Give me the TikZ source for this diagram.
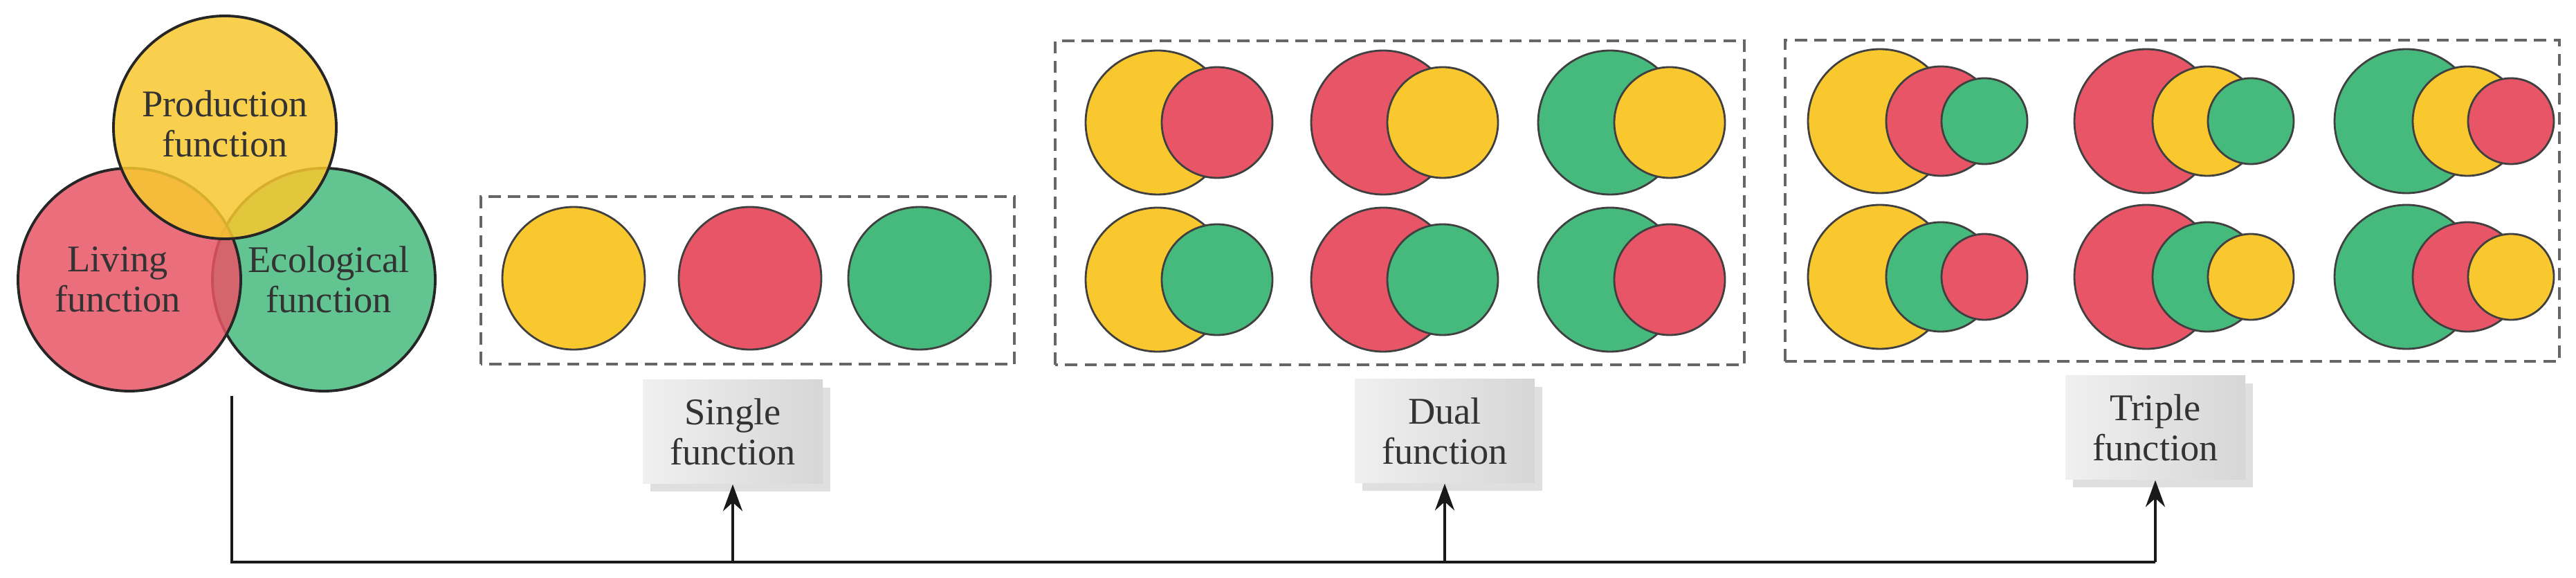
\documentclass[tikz,border=0pt]{standalone}
\usepackage{fontspec}
\setmainfont{Liberation Serif}
\usetikzlibrary{arrows.meta,shadows}
\definecolor{fy}{HTML}{F8C82E}
\definecolor{fr}{HTML}{E85566}
\definecolor{fg}{HTML}{46BA7D}
\definecolor{txt}{HTML}{333333}
\begin{document}
\begin{tikzpicture}[
  txtf/.style={font=\fontsize{15.5}{16.5}\selectfont, text=txt, align=center},
  venn/.style={circle, draw=black!85, line width=1.1pt, fill opacity=0.85, text opacity=1, minimum size=3.22cm, inner sep=0pt, txtf},
  dot/.style={draw=black!75, line width=0.8pt},
  grp/.style={draw=black!60, dashed, line width=1pt, dash pattern=on 5pt off 3pt},
  lab/.style={rectangle, minimum width=2.6cm, minimum height=1.5cm, txtf, left color=gray!12, right color=gray!32, drop shadow={shadow xshift=3pt, shadow yshift=-3pt, opacity=0.25}},
  conn/.style={line width=1.1pt, black!90},
  arr/.style={conn, -{Stealth[length=11pt,width=8pt]}}
]
\useasboundingbox (0,0) rectangle (37.23,8.34);
% Venn
\node[venn, fill=fg] (eco) at (4.68,4.30) {};
\node[venn, fill=fr] (liv) at (1.87,4.30) {};
\node[venn, fill=fy] (prod) at (3.25,6.50) {};
\node[txtf] (prodt) at (3.25,6.55) {Production\\function};
\node[txtf] (livt) at (1.70,4.30) {Living\\function};
\node[txtf] (ecot) at (4.75,4.30) {Ecological\\function};
% Single
\draw[grp] (6.95,3.08) rectangle (14.66,5.50);
\foreach \x/\c in {8.29/fy,10.84/fr,13.29/fg} \draw[dot, fill=\c] (\x,4.32) circle (1.03);
% Dual
\draw[grp] (15.25,3.07) rectangle (25.21,7.75);
\foreach \x/\a/\b/\y in {16.73/fy/fr/6.57, 19.99/fr/fy/6.57, 23.27/fg/fy/6.57,
                        16.73/fy/fg/4.30, 19.99/fr/fg/4.30, 23.27/fg/fr/4.30}{
  \draw[dot, fill=\a] (\x,\y) circle (1.04);
  \draw[dot, fill=\b] (\x+0.86,\y) circle (0.80);
}
% Triple
\draw[grp] (25.80,3.12) rectangle (36.99,7.76);
\foreach \x/\a/\b/\c/\y in {27.17/fy/fr/fg/6.59, 31.02/fr/fy/fg/6.59, 34.78/fg/fy/fr/6.59,
                           27.17/fy/fg/fr/4.34, 31.02/fr/fg/fy/4.34, 34.78/fg/fr/fy/4.34}{
  \draw[dot, fill=\a] (\x,\y) circle (1.04);
  \draw[dot, fill=\b] (\x+0.88,\y) circle (0.79);
  \draw[dot, fill=\c] (\x+1.51,\y) circle (0.62);
}
% Labels
\node[lab] (single) at (10.59,2.10) {Single\\function};
\node[lab] (dual) at (20.88,2.11) {Dual\\function};
\node[lab] (triple) at (31.15,2.16) {Triple\\function};
% Connectors
\coordinate (start) at (3.35,2.62);
\coordinate (corner) at (3.35,0.22);
\coordinate (end) at (31.15,0.22);
\coordinate (s1) at (10.59,0.22);
\coordinate (s2) at (20.88,0.22);
\draw[conn] (start) -- (corner) -- (end);
\draw[arr] (s1) -- (single.south);
\draw[arr] (s2) -- (dual.south);
\draw[arr] (end) -- (triple.south);
\end{tikzpicture}
\end{document}
